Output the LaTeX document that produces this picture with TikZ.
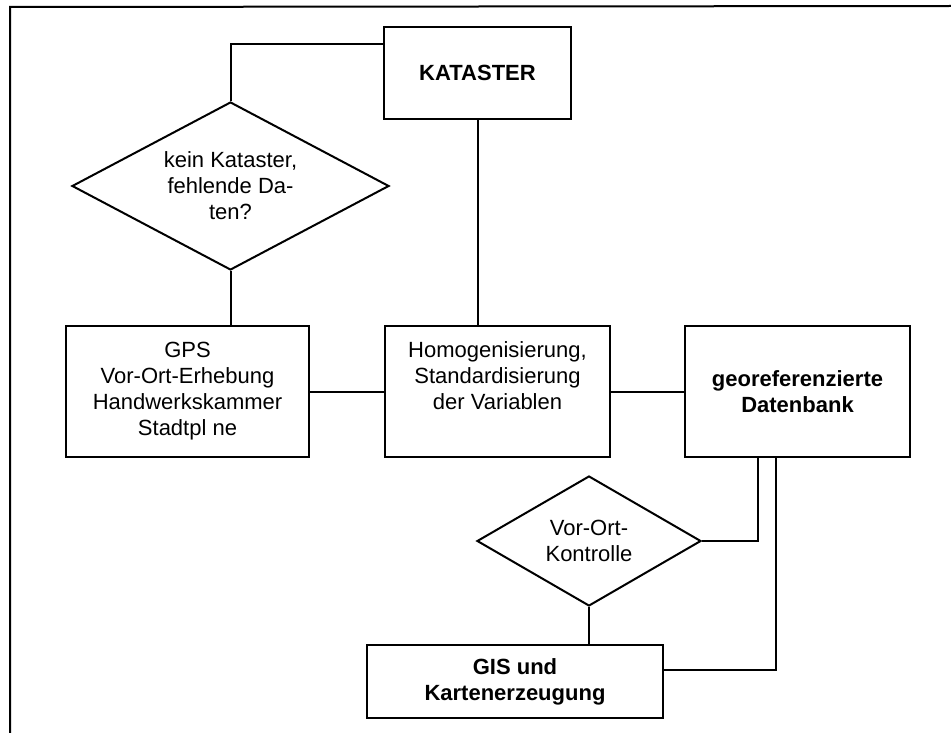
\documentclass[tikz,border=0pt]{standalone}
\usepackage{fontspec}
\setmainfont{Liberation Sans}
\usepackage{tikz}
\usetikzlibrary{positioning,shapes.geometric,calc}

\begin{document}
\begin{tikzpicture}[x=1pt, y=-1pt,
  txt/.style={font=\fontsize{22}{26}\selectfont},
  bold/.style={font=\fontsize{22}{26}\selectfont\bfseries},
  box/.style={rectangle, draw, line width=2pt, minimum width=#1, minimum height=131pt,
              inner sep=0pt, align=center, txt},
  dia/.style={diamond, draw, line width=2pt, inner sep=0pt, align=center, txt},
  ln/.style={line width=2pt},
]
\useasboundingbox (0,0) rectangle (951,733);
\draw[ln] (10,733) -- (10,7) -- (951,6);

\node[box=187pt, minimum height=92pt, bold] (kat)  at (477.5,73)    {KATASTER};
\node[dia, minimum width=317pt, minimum height=168pt, aspect=1.9]
                                            (kein) at (230.5,186)   {kein Kataster,\\fehlende Da-\\ten?};
\node[box=243pt]                            (gps)  at (187.5,391.5) {GPS\\Vor-Ort-Erhebung\\Handwerkskammer\\Stadtpl ne};
\node[box=225pt, text depth=32pt]           (hom)  at (497.5,391.5) {Homogenisierung,\\Standardisierung\\der Variablen};
\node[box=225pt, bold]                      (db)   at (797.5,391.5) {georeferenzierte\\Datenbank};
\node[dia, minimum width=224pt, minimum height=130pt, aspect=1.7]
                                            (kon)  at (589,541)     {Vor-Ort-\\Kontrolle};
\node[box=296pt, minimum height=73pt, bold] (gis)  at (515,681.5)   {GIS und\\Kartenerzeugung};

\draw[ln] (kein.north) |- ([yshift=-18pt]kat.north west);
\draw[ln] (kein.south) -- (kein.south |- gps.north);
\draw[ln] (kat.south) -- (kat.south |- hom.north);
\foreach \a/\b in {gps/hom, hom/db}
  \draw[ln] (\a) -- (\b);
\draw[ln] (kon.east) -| ([xshift=-40pt]db.south);
\draw[ln] ([xshift=-22pt]db.south) |- ([yshift=11.5pt]gis.east);
\draw[ln] (kon.south) -- (kon.south |- gis.north);
\end{tikzpicture}
\end{document}
